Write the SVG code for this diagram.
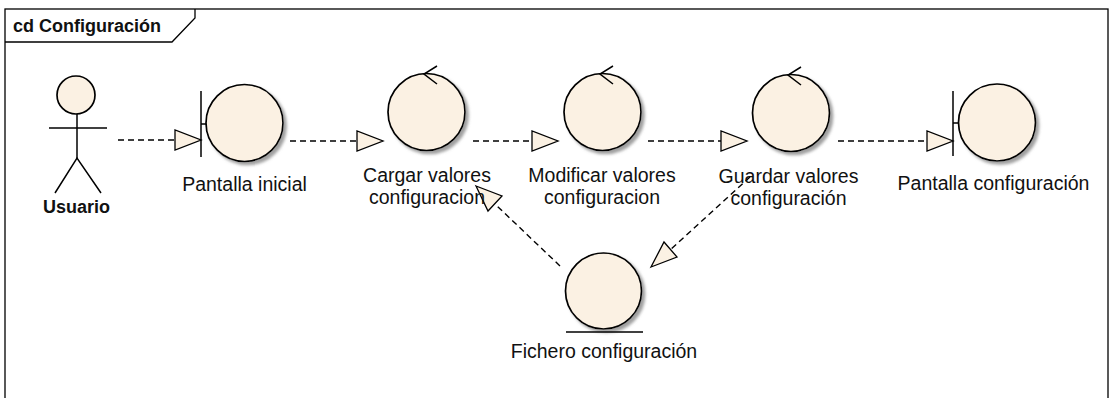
<svg xmlns="http://www.w3.org/2000/svg" width="1115" height="398" viewBox="0 0 1115 398">
<style>
.frame{fill:none;stroke:#000;stroke-width:1.3}
.obj{fill:#FBF1E3;stroke:#000;stroke-width:1.7}
.ln{fill:none;stroke:#000;stroke-width:1.5}
.dash{fill:none;stroke:#000;stroke-width:1.4;stroke-dasharray:6,4}
.head{fill:#FBF1E3;stroke:#000;stroke-width:1.3;stroke-linejoin:miter}
.lbl{font-family:"Liberation Sans",Arial,sans-serif;font-size:19.5px;fill:#111;text-anchor:middle}
.bold{font-family:"Liberation Sans",Arial,sans-serif;font-size:18px;font-weight:bold;fill:#111}
</style>
<defs>
<filter id="sh" x="-20%" y="-20%" width="150%" height="150%">
<feDropShadow dx="3" dy="3" stdDeviation="1.5" flood-color="#888" flood-opacity="0.8"/>
</filter>
</defs>
<rect width="1115" height="398" fill="#fff"/>
<g id="frame">
<rect class="frame" x="5" y="9" width="1103" height="420"/>
<polyline class="frame" points="5,42 172,42 195,18 195,9"/>
<text class="bold" x="13" y="32">cd Configuración</text>
</g>
<g id="connectors">
<line class="dash" x1="118" y1="140" x2="175" y2="140"/>
<polygon class="head" points="175,130 175,150 201,140"/>
<line class="dash" x1="290" y1="141" x2="357" y2="141"/>
<polygon class="head" points="357,131 357,151 383,141"/>
<line class="dash" x1="473" y1="141" x2="532" y2="141"/>
<polygon class="head" points="532,131 532,151 558,141"/>
<line class="dash" x1="648" y1="141" x2="721" y2="141"/>
<polygon class="head" points="721,131 721,151 747,141"/>
<line class="dash" x1="838" y1="141" x2="927" y2="141"/>
<polygon class="head" points="927,131 927,151 953,141"/>
<line class="dash" x1="560" y1="266" x2="495" y2="204"/>
<polygon class="head" points="476,186 502,196 488,211"/>
<line class="dash" x1="750" y1="177" x2="670" y2="250"/>
<polygon class="head" points="651,267 677,257 664,242"/>
</g>
<g id="usuario">
<circle class="obj" cx="76" cy="95" r="19"/>
<line class="ln" x1="49" y1="128" x2="107" y2="128"/>
<line class="ln" x1="77" y1="114" x2="77" y2="158"/>
<polyline class="ln" points="55,193 77,158 101,193"/>
<text class="bold" x="76.5" y="213" text-anchor="middle">Usuario</text>
</g>
<g id="pantalla-inicial">
<circle class="obj" cx="244.5" cy="123" r="38.5" filter="url(#sh)"/>
<line class="ln" x1="201" y1="91" x2="201" y2="157"/>
<line class="ln" x1="201" y1="124" x2="206" y2="124"/>
<text class="lbl" x="244.5" y="191">Pantalla inicial</text>
</g>
<g id="cargar">
<circle class="obj" cx="426.5" cy="112" r="38.5" filter="url(#sh)"/>
<polyline class="ln" points="437,66 424,74 437,84"/>
<text class="lbl" x="427" y="182">Cargar valores</text>
<text class="lbl" x="427" y="204">configuracion</text>
</g>
<g id="modificar">
<circle class="obj" cx="602.5" cy="112" r="38.5" filter="url(#sh)"/>
<polyline class="ln" points="613,66 600,74 613,84"/>
<text class="lbl" x="602" y="182">Modificar valores</text>
<text class="lbl" x="602" y="204">configuracion</text>
</g>
<g id="guardar">
<circle class="obj" cx="791" cy="113" r="38.5" filter="url(#sh)"/>
<polyline class="ln" points="801,67 788,75 801,85"/>
<text class="lbl" x="788.5" y="183">Guardar valores</text>
<text class="lbl" x="788.5" y="205">configuración</text>
</g>
<g id="pantalla-configuracion">
<circle class="obj" cx="997" cy="122.5" r="38.5" filter="url(#sh)"/>
<line class="ln" x1="953" y1="91" x2="953" y2="156"/>
<line class="ln" x1="953" y1="123" x2="959" y2="123"/>
<text class="lbl" x="993.5" y="190">Pantalla configuración</text>
</g>
<g id="fichero">
<circle class="obj" cx="603.5" cy="291" r="38" filter="url(#sh)"/>
<line class="ln" x1="566" y1="332" x2="643" y2="332"/>
<text class="lbl" x="604" y="358">Fichero configuración</text>
</g>
</svg>
